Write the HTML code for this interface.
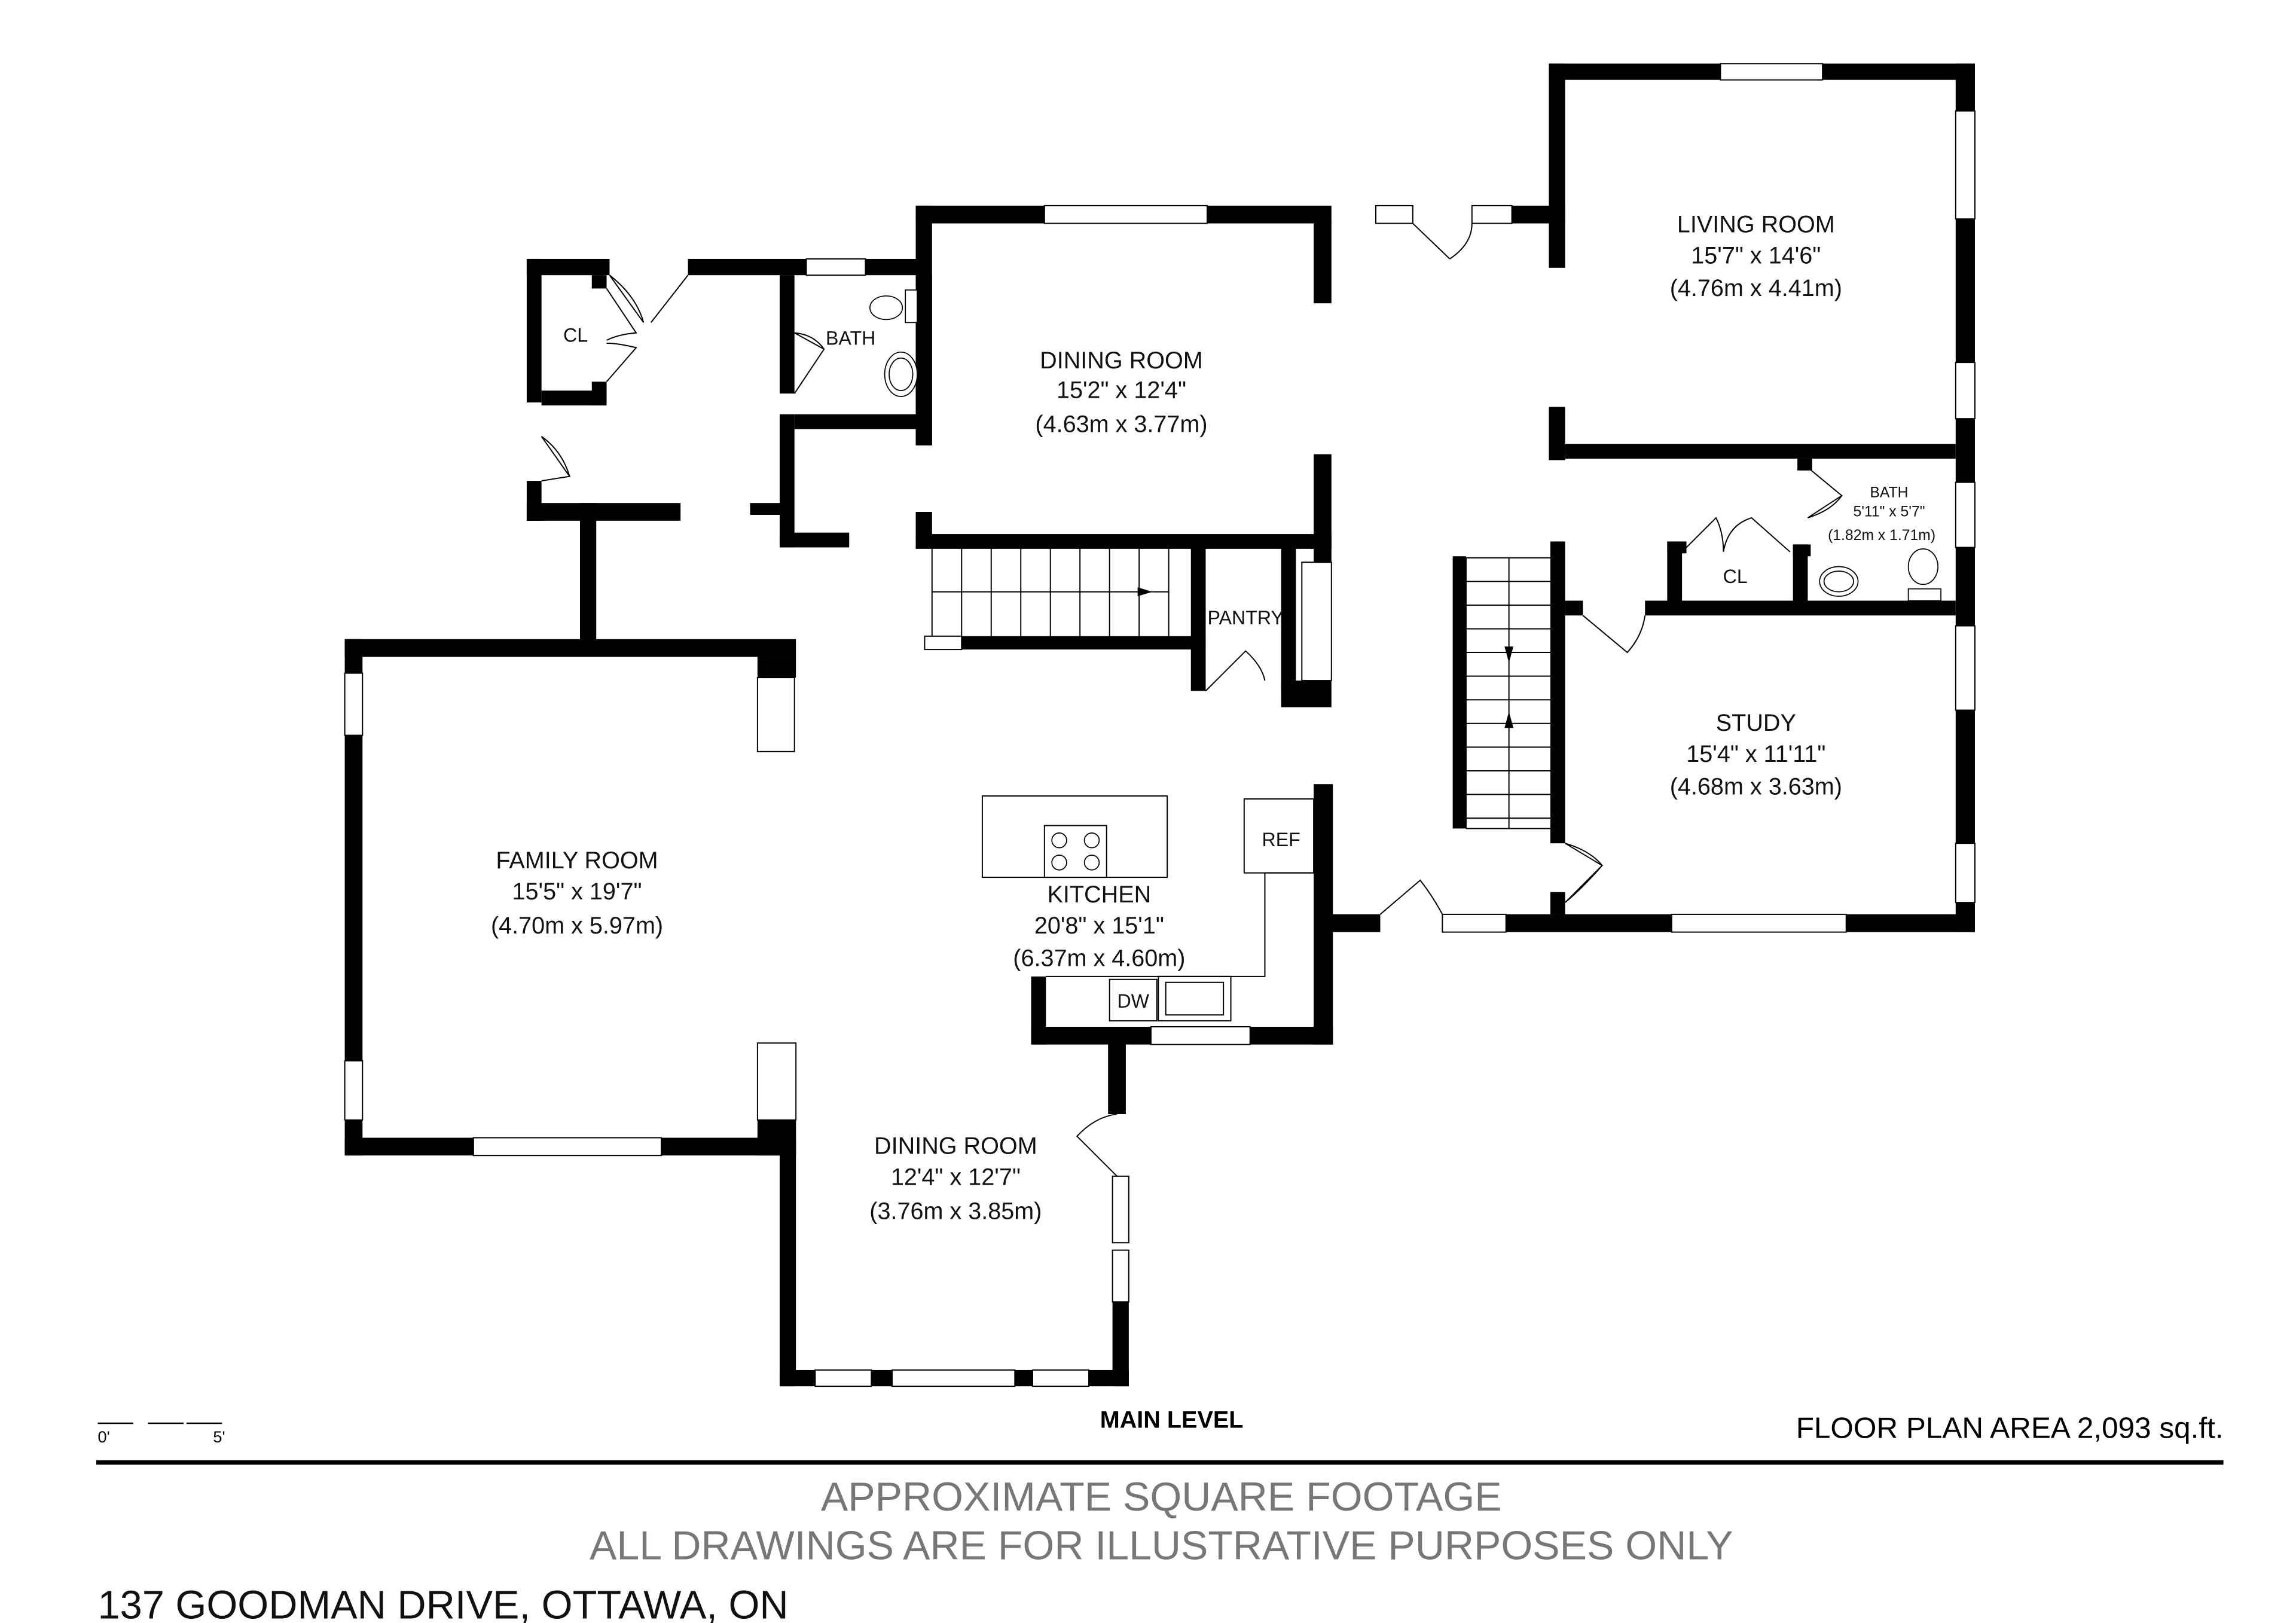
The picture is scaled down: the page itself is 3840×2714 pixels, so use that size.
<!DOCTYPE html>
<html><head><meta charset="utf-8"><style>
html,body{margin:0;padding:0;background:#fff;}
svg{display:block}
text{font-family:"Liberation Sans",sans-serif;}
</style></head><body>
<svg width="3840" height="2714" viewBox="0 0 1552 1097" xmlns="http://www.w3.org/2000/svg">
<rect width="1552" height="1097" fill="#fff"/>
<g fill="#000">
<rect x="619" y="139" width="87" height="12"/><rect x="816" y="139" width="84" height="12"/>
<rect x="619" y="139" width="11" height="162"/>
<rect x="888" y="150" width="12" height="55"/><rect x="888" y="307" width="12" height="64"/>
<rect x="619" y="361" width="281" height="10"/><rect x="619" y="346" width="11" height="20"/>
<rect x="1022" y="139" width="36" height="12"/>
<rect x="650" y="430" width="165" height="9"/>
<rect x="805" y="370" width="10" height="97"/><rect x="866" y="370" width="10" height="97"/>
<rect x="866" y="460" width="34" height="18"/><rect x="888" y="370" width="12" height="10"/>
<rect x="356" y="175" width="56" height="11"/><rect x="465" y="175" width="80" height="11"/><rect x="585" y="175" width="40" height="11"/>
<rect x="356" y="175" width="10" height="97"/><rect x="400" y="186" width="10" height="9"/>
<rect x="366" y="264" width="44" height="10"/><rect x="400" y="258" width="10" height="16"/>
<rect x="356" y="325" width="10" height="27"/><rect x="356" y="340" width="104" height="12"/>
<rect x="392" y="340" width="11" height="97"/>
<rect x="527" y="186" width="10" height="80"/><rect x="527" y="280" width="10" height="90"/>
<rect x="537" y="280" width="88" height="10"/><rect x="619" y="186" width="11" height="115"/>
<rect x="507" y="340" width="20" height="8"/><rect x="527" y="360" width="47" height="10"/>
<rect x="233" y="432" width="305" height="12"/>
<rect x="233" y="432" width="12" height="23"/><rect x="233" y="497" width="12" height="220"/><rect x="233" y="757" width="12" height="24"/>
<rect x="233" y="769" width="87" height="12"/><rect x="447" y="769" width="91" height="12"/>
<rect x="512" y="444" width="26" height="14"/>
<rect x="527" y="757" width="11" height="180"/><rect x="512" y="757" width="26" height="24"/>
<rect x="527" y="926" width="24" height="11"/><rect x="589" y="926" width="14" height="11"/><rect x="686" y="926" width="12" height="11"/><rect x="736" y="926" width="27" height="11"/>
<rect x="752" y="880" width="11" height="57"/>
<rect x="749" y="700" width="12" height="53"/>
<rect x="697" y="694" width="81" height="12"/><rect x="845" y="694" width="56" height="12"/>
<rect x="697" y="660" width="10" height="46"/>
<rect x="888" y="530" width="13" height="176"/>
<rect x="900" y="618" width="33" height="12"/><rect x="1018" y="618" width="112" height="12"/><rect x="1248" y="618" width="87" height="12"/>
<rect x="1048" y="366" width="10" height="204"/><rect x="1048" y="603" width="10" height="15"/>
<rect x="982" y="376" width="9" height="184"/>
<rect x="1322" y="43" width="13" height="32"/><rect x="1322" y="148" width="13" height="97"/><rect x="1322" y="283" width="13" height="43"/><rect x="1322" y="370" width="13" height="53"/><rect x="1322" y="480" width="13" height="90"/><rect x="1322" y="610" width="13" height="20"/>
<rect x="1047" y="43" width="116" height="11"/><rect x="1232" y="43" width="103" height="11"/>
<rect x="1047" y="43" width="11" height="138"/><rect x="1047" y="275" width="11" height="36"/>
<rect x="1058" y="300" width="264" height="10"/>
<rect x="1058" y="406" width="12" height="10"/><rect x="1112" y="406" width="210" height="10"/>
<rect x="1127" y="366" width="10" height="44"/><rect x="1127" y="366" width="13" height="8"/>
<rect x="1212" y="368" width="10" height="42"/><rect x="1212" y="368" width="12" height="8"/>
<rect x="1215" y="310" width="10" height="8"/>
</g>
<g fill="#fff" stroke="#000" stroke-width="0.8">
<rect x="706" y="139" width="110" height="12"/><rect x="930" y="139" width="25" height="12"/><rect x="995" y="139" width="27" height="12"/>
<rect x="545" y="175" width="40" height="11"/>
<rect x="1163" y="43" width="69" height="11"/>
<rect x="1322" y="75" width="13" height="73"/><rect x="1322" y="245" width="13" height="38"/><rect x="1322" y="326" width="13" height="44"/><rect x="1322" y="423" width="13" height="57"/><rect x="1322" y="570" width="13" height="40"/>
<rect x="975" y="618" width="43" height="12"/><rect x="1130" y="618" width="118" height="12"/>
<rect x="233" y="455" width="12" height="42"/><rect x="233" y="717" width="12" height="40"/>
<rect x="320" y="769" width="127" height="12"/>
<rect x="512" y="458" width="25" height="50"/><rect x="512" y="705" width="26" height="52"/>
<rect x="551" y="926" width="38" height="11"/><rect x="603" y="926" width="83" height="11"/><rect x="698" y="926" width="38" height="11"/>
<rect x="752" y="795" width="11" height="45"/><rect x="752" y="845" width="11" height="35"/>
<rect x="778" y="694" width="67" height="12"/>
<rect x="880" y="380" width="20" height="80"/>
<rect x="625" y="430" width="25" height="9"/>
<rect x="664" y="538" width="125" height="55"/>
<rect x="706" y="558" width="42" height="35"/>
<rect x="841" y="540" width="47" height="50"/>
<rect x="750" y="662" width="32" height="28"/><rect x="783" y="660" width="49" height="30"/><rect x="788" y="664" width="39" height="22"/>
</g>
<g fill="none" stroke="#000" stroke-width="0.8">
<path d="M630 371V430M650 371V430M670 371V430M690 371V430M710 371V430M730 371V430M750 371V430M770 371V430M790 371V430M630 400H790"/>
<path d="M991 377H1048M1020 377V560M991 377V560"/>
<path d="M991 393H1048M991 409H1048M991 425H1048M991 441H1048M991 457H1048M991 473H1048M991 489H1048M991 505H1048M991 521H1048M991 537H1048M991 553H1048M991 560H1048"/>
<path d="M707 660H855V590M855 590H888"/>
<path d="M412 186L435 218M435 218Q430 200 412 186M465 186L440 218"/>
<path d="M410 195L430 225Q418 226 410 230M410 258L430 235Q418 232 410 232"/>
<path d="M366 295L385 322L366 325M385 322Q380 305 366 295"/>
<path d="M537 266L557 236L537 225M557 236Q550 226 537 225"/>
<path d="M955 151L980 175M995 151Q995 165 980 175"/>
<path d="M815 467L842 440Q853 450 855 460"/>
<path d="M755 795L728 768Q740 755 755 753"/>
<path d="M933 618L960 595Q968 605 975 618"/>
<path d="M1058 570L1083 585L1058 610Q1070 600 1083 585M1058 570Q1075 575 1083 585"/>
<path d="M1070 416L1100 441Q1110 430 1112 416"/>
<path d="M1137 373L1160 350Q1165 360 1165 373Q1168 355 1184 350L1210 373"/>
<path d="M1222 316L1245 335L1222 350M1245 335Q1238 345 1222 350"/>
</g>
<g fill="#000">
<polygon points="769,397 779,400 769,403"/>
<polygon points="1017,437 1023,437 1020,448"/>
<polygon points="1017,492 1023,492 1020,481"/>
</g>
<g fill="#fff" stroke="#000" stroke-width="0.7">
<ellipse cx="599" cy="208" rx="11" ry="8"/><rect x="612" y="196" width="8" height="22"/>
<ellipse cx="609" cy="253" rx="11" ry="15"/><ellipse cx="609" cy="253" rx="8" ry="11"/>
<ellipse cx="1243" cy="393" rx="13" ry="10"/><ellipse cx="1243" cy="393" rx="10" ry="7"/>
<ellipse cx="1300" cy="383" rx="10" ry="12"/><rect x="1290" y="398" width="22" height="8"/>
<circle cx="716" cy="568" r="5"/><circle cx="738" cy="568" r="5"/><circle cx="716" cy="583" r="5"/><circle cx="738" cy="583" r="5"/>
</g>
<g font-size="16" text-anchor="middle" fill="#111">
<text x="758" y="249">DINING ROOM</text><text x="758" y="269">15'2" x 12'4"</text><text x="758" y="292">(4.63m x 3.77m)</text>
<text x="1187" y="157">LIVING ROOM</text><text x="1187" y="178">15'7" x 14'6"</text><text x="1187" y="200">(4.76m x 4.41m)</text>
<text x="1187" y="494">STUDY</text><text x="1187" y="515">15'4" x 11'11"</text><text x="1187" y="537">(4.68m x 3.63m)</text>
<text x="390" y="587">FAMILY ROOM</text><text x="390" y="608">15'5" x 19'7"</text><text x="390" y="631">(4.70m x 5.97m)</text>
<text x="743" y="610">KITCHEN</text><text x="743" y="631">20'8" x 15'1"</text><text x="743" y="653">(6.37m x 4.60m)</text>
<text x="646" y="780">DINING ROOM</text><text x="646" y="801">12'4" x 12'7"</text><text x="646" y="824">(3.76m x 3.85m)</text>
</g>
<g font-size="13" text-anchor="middle" fill="#111">
<text x="389" y="231">CL</text><text x="575" y="233">BATH</text><text x="842" y="422">PANTRY</text>
<text x="1173" y="394">CL</text><text x="866" y="572">REF</text><text x="766" y="681">DW</text>
</g>
<g font-size="10" text-anchor="middle" fill="#111">
<text x="1277" y="336">BATH</text><text x="1277" y="349">5'11" x 5'7"</text><text x="1272" y="365">(1.82m x 1.71m)</text>
</g>
<path d="M66 962H90M100 962H124M126 962H150" stroke="#000" stroke-width="1"/>
<text x="66" y="975" font-size="11">0'</text><text x="144" y="975" font-size="11">5'</text>
<text x="792" y="965" font-size="16" font-weight="bold" text-anchor="middle">MAIN LEVEL</text>
<text x="1503" y="972" font-size="20" text-anchor="end">FLOOR PLAN AREA 2,093 sq.ft.</text>
<rect x="65" y="987" width="1438" height="3" fill="#000"/>
<text x="785" y="1021" font-size="27.5" text-anchor="middle" fill="#777">APPROXIMATE SQUARE FOOTAGE</text>
<text x="785" y="1054" font-size="27.5" text-anchor="middle" fill="#777">ALL DRAWINGS ARE FOR ILLUSTRATIVE PURPOSES ONLY</text>
<text x="66" y="1094" font-size="27" fill="#111">137 GOODMAN DRIVE, OTTAWA, ON</text>
</svg>
</body></html>
